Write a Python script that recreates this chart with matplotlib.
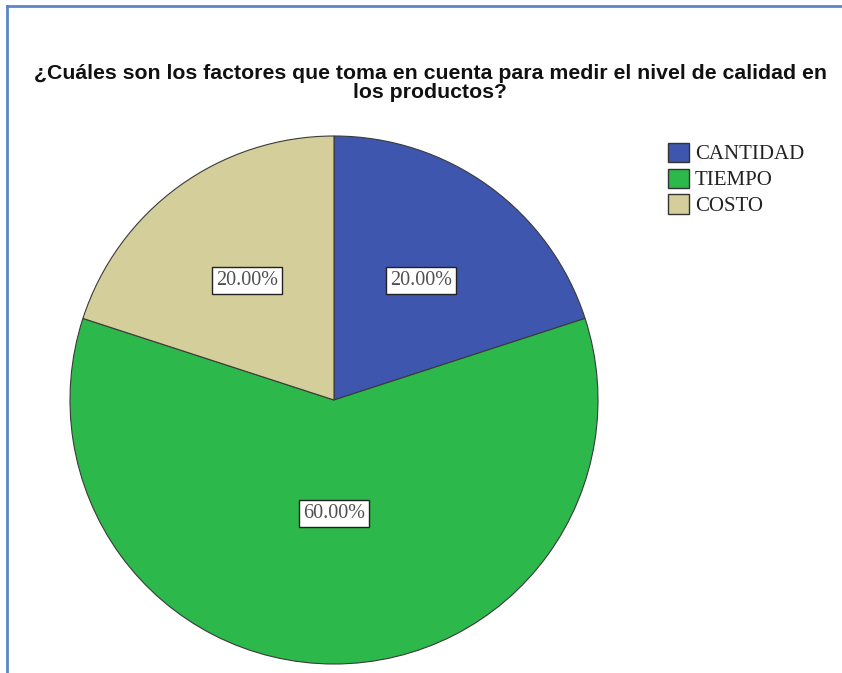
import numpy as np
import matplotlib
matplotlib.use("Agg")
import matplotlib.pyplot as plt
from matplotlib.patches import Patch
from matplotlib.lines import Line2D

# Survey answers (share of respondents, %)
categories = ["CANTIDAD", "TIEMPO", "COSTO"]
shares = [20.0, 60.0, 20.0]
colors = ["#3E56AD", "#2DB84B", "#D4CF9A"]
label_radius = [0.56, 0.43, 0.56]

title = ("¿Cuáles son los factores que toma en cuenta para medir el nivel de calidad en\n"
         "los productos?")

W, H = 842, 673
fig = plt.figure(figsize=(W / 100, H / 100), dpi=100)

# pie axes: center (334, 400) px, radius 264 px
cx, cy, r = 334, 400, 264
ax = fig.add_axes([(cx - r) / W, (H - cy - r) / H, 2 * r / W, 2 * r / H])
wedges, _ = ax.pie(shares, colors=colors, startangle=90, counterclock=False,
                   wedgeprops=dict(edgecolor="#3a3a3a", linewidth=0.8))
ax.set_xlim(-1, 1)
ax.set_ylim(-1, 1)
ax.axis("off")

# percentage boxes placed along each wedge's bisector
for w, val, rr in zip(wedges, shares, label_radius):
    ang = np.deg2rad((w.theta1 + w.theta2) / 2)
    ax.text(rr * np.cos(ang), rr * np.sin(ang), f"{val:.2f}%",
            ha="center", va="center", fontsize=14.5, family="Liberation Serif",
            color="#505050",
            bbox=dict(boxstyle="square,pad=0.2", facecolor="white",
                      edgecolor="#222222", linewidth=1.0))

fig.text(430 / W, 1 - 83 / H, title, ha="center", va="center",
         fontsize=15.3, fontweight="bold", family="Liberation Sans",
         linespacing=1.02, color="#111111")

handles = [Patch(facecolor=c, edgecolor="#333333", linewidth=1.0) for c in colors]
fig.legend(handles, categories, loc="upper left",
           bbox_to_anchor=(653 / W, 1 - 128 / H), frameon=False,
           prop=dict(family="Liberation Serif", size=15),
           handlelength=1.05, handleheight=1.05, handletextpad=0.25,
           labelspacing=0.2, borderpad=0.2, labelcolor="#222222")

# thin blue frame along the top and left edges
frame = dict(color="#5B86C5", linewidth=2.0, transform=fig.transFigure)
fig.add_artist(Line2D([7 / W, 1], [1 - 6 / H, 1 - 6 / H], **frame))
fig.add_artist(Line2D([7 / W, 7 / W], [0, 1 - 6 / H], **frame))

fig.savefig("out.png", dpi=100, facecolor="white")
